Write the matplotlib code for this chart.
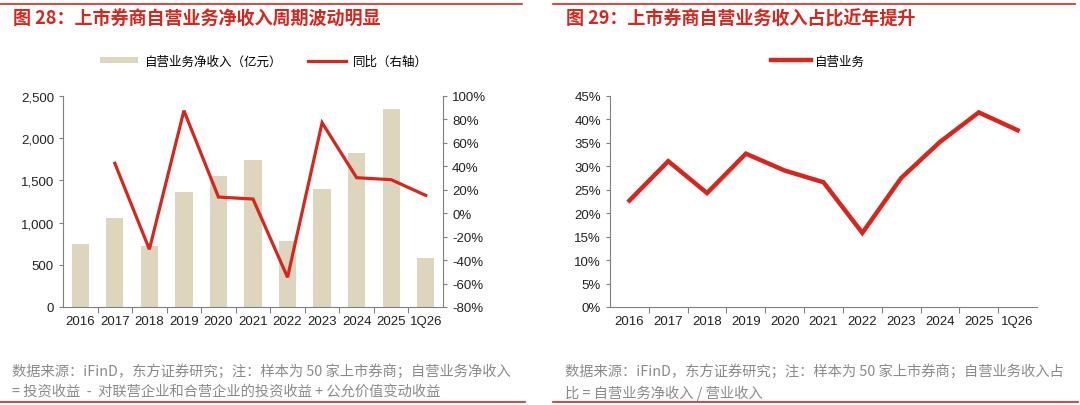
import matplotlib
matplotlib.use("Agg")
import matplotlib.pyplot as plt
from matplotlib.ticker import FuncFormatter, FixedLocator
from matplotlib.lines import Line2D
from matplotlib.patches import Patch

plt.rcParams['font.family'] = ['Liberation Sans', 'Noto Sans CJK SC', 'DejaVu Sans']

categories = ["2016", "2017", "2018", "2019", "2020", "2021", "2022", "2023", "2024", "2025", "1Q26"]
net_income = [742, 1050, 727, 1367, 1556, 1746, 786, 1402, 1829, 2346, 585]
yoy = [None, 42.6, -30.8, 87.5, 13.8, 12.1, -54.7, 77.2, 30.3, 28.6, 15.2]
share = [22.7, 31.1, 24.3, 32.7, 29.1, 26.6, 15.8, 27.5, 35.2, 41.5, 37.7]

RED = "#d7261e"
BAR = "#ddd5bd"
GRAY = "#808080"
TXT = "#222222"
NOTE = "#8a8a8a"

fig = plt.figure(figsize=(10.8, 4.06), dpi=100)

def px(x, y):
    return x / 1080, 1 - y / 406

# decorative lines
for (x0, x1) in [(0, 522), (553, 1075)]:
    fig.add_artist(Line2D([x0/1080, x1/1080], [1-5/406]*2, color=RED, lw=1.2))
for (x0, x1) in [(0, 525), (553, 1078)]:
    fig.add_artist(Line2D([x0/1080, x1/1080], [1-402.5/406]*2, color=RED, lw=1.2))

cjk = ['Noto Sans CJK SC', 'DejaVu Sans']
fig.text(*px(13, 19), "图 28：上市券商自营业务净收入周期波动明显", color=RED, fontsize=13,
         fontweight='bold', family=cjk, va='center', ha='left')
fig.text(*px(566, 19), "图 29：上市券商自营业务收入占比近年提升", color=RED, fontsize=13,
         fontweight='bold', family=cjk, va='center', ha='left')

NFS = 10.3
fig.text(*px(12, 371), "数据来源：iFinD，东方证券研究；注：样本为 50 家上市券商；自营业务净收入",
         color=NOTE, fontsize=NFS, family=cjk, va='center', ha='left')
fig.text(*px(12, 393), "= 投资收益  -  对联营企业和合营企业的投资收益 + 公允价值变动收益",
         color=NOTE, fontsize=NFS, family=cjk, va='center', ha='left')
fig.text(*px(565, 371), "数据来源：iFinD，东方证券研究；注：样本为 50 家上市券商；自营业务收入占",
         color=NOTE, fontsize=NFS, family=cjk, va='center', ha='left')
fig.text(*px(565, 393), "比 = 自营业务净收入 / 营业收入",
         color=NOTE, fontsize=NFS, family=cjk, va='center', ha='left')

x = list(range(len(categories)))

def style_axes(ax):
    for s in ['top']:
        ax.spines[s].set_visible(False)
    for s in ['left', 'right', 'bottom']:
        ax.spines[s].set_color(GRAY)
        ax.spines[s].set_linewidth(0.8)
    ax.set_xlim(-0.5, len(categories) - 0.5)
    ax.set_xticks(x)
    ax.set_xticklabels(categories)
    ax.xaxis.set_minor_locator(FixedLocator([i + 0.5 for i in range(len(categories) - 1)]))
    ax.tick_params(axis='x', which='major', length=0, pad=6, labelsize=9.5, labelcolor=TXT)
    ax.tick_params(axis='x', which='minor', length=4, width=0.8, color=GRAY, direction='out')
    ax.tick_params(axis='y', length=3, width=0.8, color=GRAY, labelsize=9.5, labelcolor=TXT)

# Left chart
ax1 = fig.add_axes([63/1080, 1-308/406, (443-63)/1080, (308-97)/406])
ax1.bar(x, net_income, width=0.5, color=BAR, zorder=1)
ax1.set_ylim(0, 2500)
ax1.set_yticks(range(0, 2501, 500))
ax1.yaxis.set_major_formatter(FuncFormatter(lambda v, p: f"{int(v):,}"))
style_axes(ax1)
ax1.spines['right'].set_visible(False)

ax2 = ax1.twinx()
xs = [i for i, v in zip(x, yoy) if v is not None]
ys = [v for v in yoy if v is not None]
ax2.plot(xs, ys, color=RED, lw=2.3, solid_joinstyle='miter')
ax2.set_ylim(-80, 100)
ax2.set_yticks(range(-80, 101, 20))
ax2.yaxis.set_major_formatter(FuncFormatter(lambda v, p: f"{int(v)}%"))
for s in ['top', 'left', 'bottom']:
    ax2.spines[s].set_visible(False)
ax2.spines['right'].set_color(GRAY)
ax2.spines['right'].set_linewidth(0.8)
ax2.tick_params(axis='y', length=3, width=0.8, color=GRAY, labelsize=9.5, labelcolor=TXT)

handles = [Patch(facecolor=BAR, edgecolor='none'), Line2D([], [], color=RED, lw=2.3)]
fig.legend(handles, ["自营业务净收入（亿元）", "同比（右轴）"], loc='center',
           bbox_to_anchor=px(264, 62), ncol=2, frameon=False, prop={'family': cjk, 'size': 9},
           handlelength=3.0, handleheight=0.45, columnspacing=2.1, handletextpad=0.55)

# Right chart
ax3 = fig.add_axes([610/1080, 1-308/406, (1037-610)/1080, (308-97)/406])
ax3.plot(x, share, color=RED, lw=3.2, solid_joinstyle='miter')
ax3.set_ylim(0, 45)
ax3.set_yticks(range(0, 46, 5))
ax3.yaxis.set_major_formatter(FuncFormatter(lambda v, p: f"{int(v)}%"))
style_axes(ax3)
ax3.spines['right'].set_visible(False)

fig.legend([Line2D([], [], color=RED, lw=3.2)], ["自营业务"], loc='center',
           bbox_to_anchor=px(818, 62), frameon=False, prop={'family': cjk, 'size': 9},
           handlelength=3.2, handletextpad=0.3)

fig.savefig("out.png", dpi=100)
